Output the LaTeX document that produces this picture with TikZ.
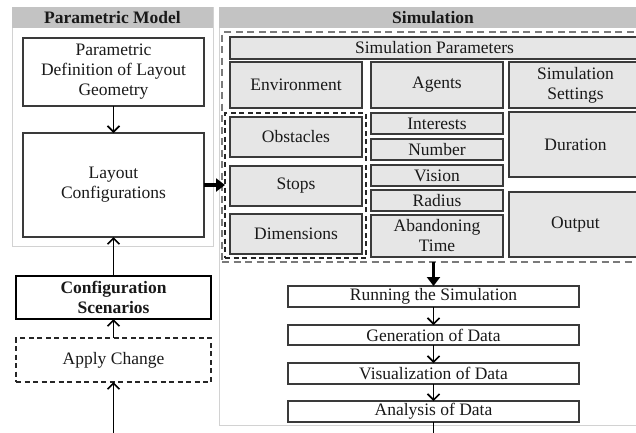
\documentclass[tikz,border=0pt]{standalone}
\usepackage{fontspec}
\setmainfont{Liberation Serif}
\newfontfamily\tnr{Liberation Serif}
\usetikzlibrary{arrows.meta}
\definecolor{hdr}{HTML}{C3C3C3}
\definecolor{boxfill}{HTML}{E6E6E6}
\definecolor{boxline}{HTML}{3A3A3A}
\definecolor{panelline}{HTML}{D2D2D2}
\definecolor{dashgray}{HTML}{7A7A7A}
\newcommand{\bx}[7]{\node[#2, minimum width={(#5)-(#3)}, minimum height={(#6)-(#4)}] (#1) at ({((#3)+(#5))/2},{((#4)+(#6))/2}) {#7};}
\tikzset{
  every node/.style={font=\tnr\fontsize{17.5}{20}\selectfont, inner sep=0pt, outer sep=0pt, align=center, text=black!90},
  header/.style={fill=hdr, draw=none},
  panel/.style={draw=panelline, line width=1pt},
  gbox/.style={draw=boxline, fill=boxfill, line width=1.3pt},
  wbox/.style={draw=boxline, fill=white, line width=1.3pt},
  boldbox/.style={draw=black, fill=white, line width=2pt, font=\tnr\fontsize{17.5}{20}\selectfont\bfseries},
  dbox/.style={draw=black!85, dash pattern=on 5pt off 3.5pt, line width=1.4pt},
  graydash/.style={draw=dashgray, dash pattern=on 7pt off 4.5pt, line width=1.4pt},
  thin arrow/.style={line width=1.6pt, -{Straight Barb[length=6pt,width=12pt]}},
  fat arrow/.style={line width=3.5pt, -{Triangle[length=9pt,width=13pt]}},
}
\begin{document}
\begin{tikzpicture}[x=1pt,y=-1pt]
\clip (0,0) rectangle (636,432);
\fill[white] (0,0) rectangle (636,432);
% panels
\bx{lpanel}{panel}{12}{7}{213}{246}{}
\bx{lhdr}{header}{12}{7}{213}{28}{\bfseries Parametric Model}
\bx{rpanel}{panel}{219}{7}{647}{425}{}
\bx{rhdr}{header}{219}{7}{647}{28}{\bfseries Simulation}
% left column
\bx{pdef}{wbox}{23}{38}{204}{106}{Parametric\\Definition of Layout\\Geometry}
\bx{lay}{wbox}{23}{133}{204}{237}{Layout\\Configurations}
\bx{conf}{boldbox}{16}{276}{211}{319}{Configuration\\Scenarios}
\bx{apply}{dbox}{16}{338}{211}{382}{Apply Change}
% simulation parameters
\bx{outer}{graydash}{222}{32}{652}{262}{}
\bx{simpar}{gbox}{230}{37}{639}{59}{Simulation Parameters}
\bx{env}{gbox}{230}{62}{362}{108}{Environment}
\bx{agents}{gbox}{371}{62}{503}{108}{Agents}
\bx{simset}{gbox}{509}{62}{642}{108}{Simulation\\Settings}
\bx{inner}{dbox}{225}{113}{366}{258}{}
\bx{obst}{gbox}{230}{117}{362}{157}{Obstacles}
\bx{stops}{gbox}{230}{166}{362}{206}{Stops}
\bx{dims}{gbox}{230}{214}{362}{254}{Dimensions}
\bx{inter}{gbox}{371}{113}{503}{134}{Interests}
\bx{number}{gbox}{371}{139}{503}{160}{Number}
\bx{vision}{gbox}{371}{165}{503}{186}{Vision}
\bx{radius}{gbox}{371}{190}{503}{211}{Radius}
\bx{aband}{gbox}{371}{215}{503}{257}{Abandoning\\Time}
\bx{dur}{gbox}{509}{112}{642}{177}{Duration}
\bx{outp}{gbox}{509}{192}{642}{257}{Output}
% process chain
\bx{run}{wbox}{288}{286}{579}{307}{Running the Simulation}
\bx{gen}{wbox}{288}{325}{579}{345}{Generation of Data}
\bx{vis}{wbox}{288}{363}{579}{384}{Visualization of Data}
\bx{ana}{wbox}{288}{401}{579}{422}{Analysis of Data}
\coordinate (lbot) at (113.5,440);
\coordinate (rbot) at (433.5,440);
% connectors
\draw[thin arrow] (pdef.south) -- (lay.north);
\draw[thin arrow] (conf.north) -- (lay.south);
\draw[thin arrow] (apply.north) -- (conf.south);
\draw[thin arrow] (lbot) -- (apply.south);
\draw[fat arrow] (lay.east) -- (inner.west |- lay.east);
\draw[fat arrow] (run.north |- outer.south) -- (run.north);
\draw[thin arrow] (run.south) -- (gen.north);
\draw[thin arrow] (gen.south) -- (vis.north);
\draw[thin arrow] (vis.south) -- (ana.north);
\draw[line width=1.6pt] (ana.south) -- (rbot);
\end{tikzpicture}
\end{document}
